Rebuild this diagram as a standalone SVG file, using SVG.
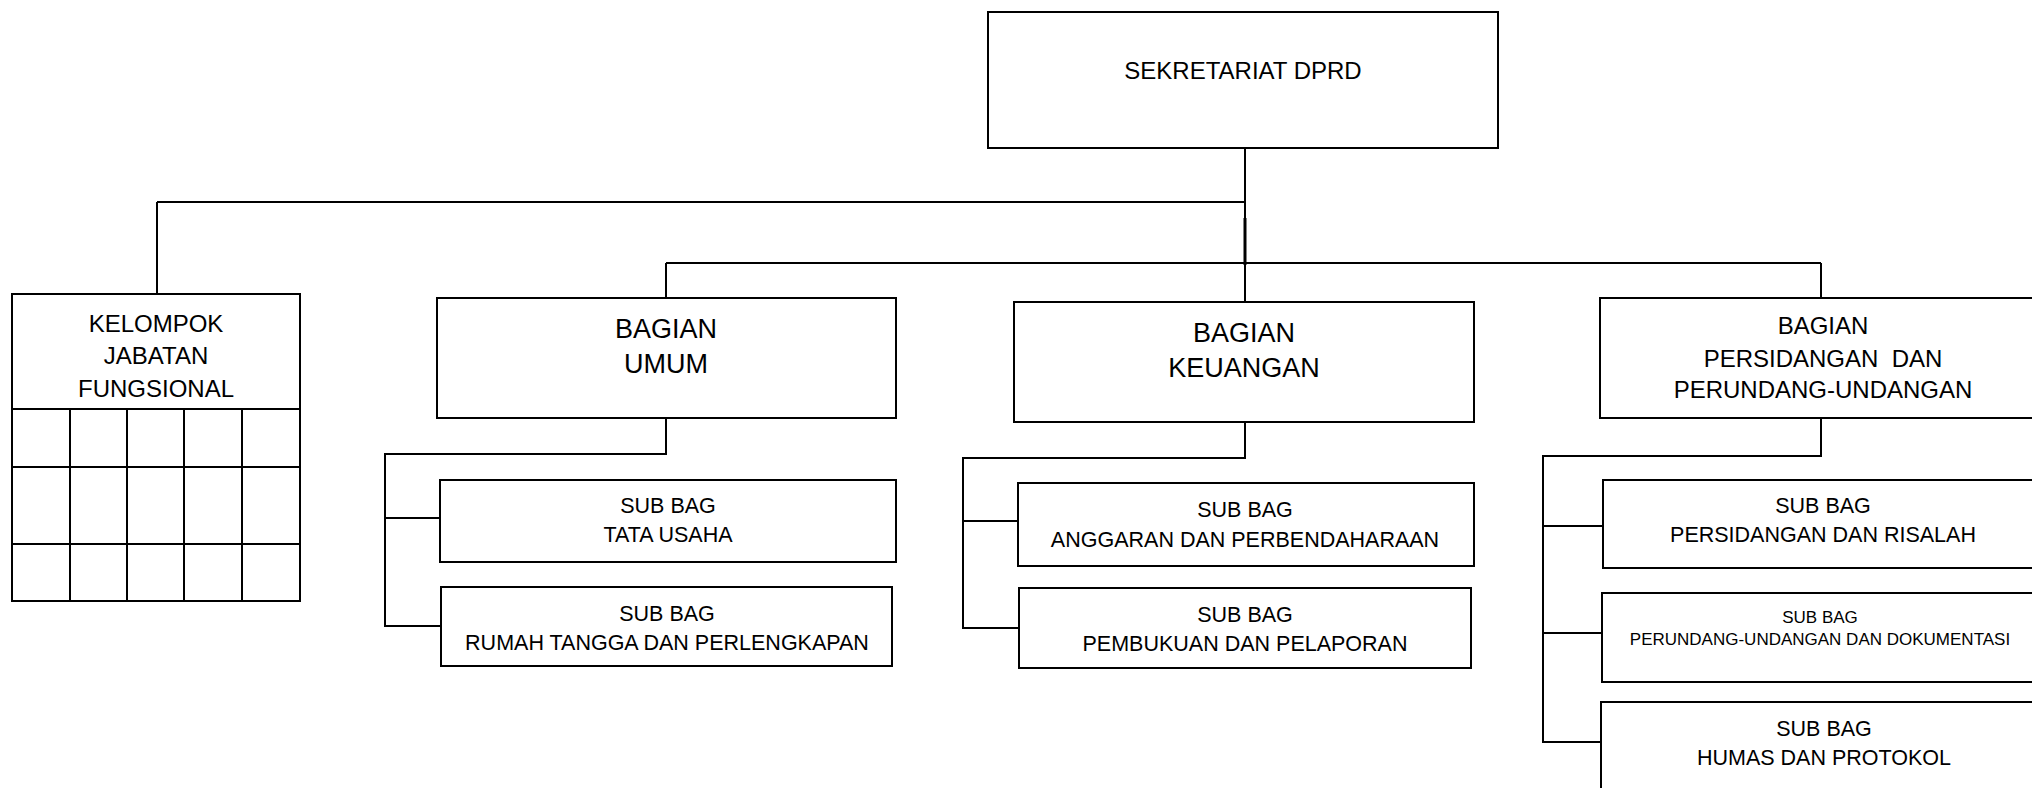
<svg xmlns="http://www.w3.org/2000/svg" width="2032" height="788" viewBox="0 0 2032 788">
<style>
rect { fill: #fff; stroke: #000; stroke-width: 2; }
.ln { stroke: #000; stroke-width: 2; fill: none; }
text { font-family: "Liberation Sans", Arial, sans-serif; fill: #000; text-anchor: middle; white-space: pre; }
.t24 { font-size: 24px; }
.t27 { font-size: 27px; }
.t21 { font-size: 21.5px; }
.t17 { font-size: 17px; }
</style>
<rect x="0" y="0" width="2032" height="788" style="stroke:none;fill:#fff"/>
<g id="connectors">
  <path class="ln" d="M1245,148 V265"/>
  <path d="M1245,218 V265" stroke="#000" stroke-width="3"/>
  <path class="ln" d="M157,202 H1245"/>
  <path class="ln" d="M157,202 V294"/>
  <path class="ln" d="M666,263 H1821"/>
  <path class="ln" d="M666,263 V298"/>
  <path class="ln" d="M1245,263 V302"/>
  <path class="ln" d="M1821,263 V298"/>
  <path class="ln" d="M666,418 V454 H385 V626 H441"/>
  <path class="ln" d="M385,518 H440"/>
  <path class="ln" d="M1245,422 V458 H963 V628 H1019"/>
  <path class="ln" d="M963,521 H1018"/>
  <path class="ln" d="M1821,418 V456 H1543 V742 H1601"/>
  <path class="ln" d="M1543,526 H1603"/>
  <path class="ln" d="M1543,633 H1602"/>
</g>
<g id="sekretariat">
  <rect x="988" y="12" width="510" height="136"/>
  <text class="t24" x="1243" y="79">SEKRETARIAT DPRD</text>
</g>
<g id="kelompok">
  <rect x="12" y="294" width="288" height="307"/>
  <path class="ln" d="M12,409 H300 M12,467 H300 M12,544 H300 M70,409 V601 M127,409 V601 M184,409 V601 M242,409 V601"/>
  <text class="t24" x="156" y="332">KELOMPOK</text>
  <text class="t24" x="156" y="364">JABATAN</text>
  <text class="t24" x="156" y="397">FUNGSIONAL</text>
</g>
<g id="bagian-umum">
  <rect x="437" y="298" width="459" height="120"/>
  <text class="t27" x="666" y="338">BAGIAN</text>
  <text class="t27" x="666" y="373">UMUM</text>
</g>
<g id="subbag-tata-usaha">
  <rect x="440" y="480" width="456" height="82"/>
  <text class="t21" x="668" y="513">SUB BAG</text>
  <text class="t21" x="668" y="542">TATA USAHA</text>
</g>
<g id="subbag-rumah-tangga">
  <rect x="441" y="587" width="451" height="79"/>
  <text class="t21" x="667" y="621">SUB BAG</text>
  <text class="t21" x="667" y="650">RUMAH TANGGA DAN PERLENGKAPAN</text>
</g>
<g id="bagian-keuangan">
  <rect x="1014" y="302" width="460" height="120"/>
  <text class="t27" x="1244" y="342">BAGIAN</text>
  <text class="t27" x="1244" y="377">KEUANGAN</text>
</g>
<g id="subbag-anggaran">
  <rect x="1018" y="483" width="456" height="83"/>
  <text class="t21" x="1245" y="517">SUB BAG</text>
  <text class="t21" x="1245" y="547">ANGGARAN DAN PERBENDAHARAAN</text>
</g>
<g id="subbag-pembukuan">
  <rect x="1019" y="588" width="452" height="80"/>
  <text class="t21" x="1245" y="622">SUB BAG</text>
  <text class="t21" x="1245" y="651">PEMBUKUAN DAN PELAPORAN</text>
</g>
<g id="bagian-persidangan">
  <rect x="1600" y="298" width="440" height="120"/>
  <text class="t24" x="1823" y="334">BAGIAN</text>
  <text class="t24" x="1823" y="367">PERSIDANGAN  DAN</text>
  <text class="t24" x="1823" y="398">PERUNDANG-UNDANGAN</text>
</g>
<g id="subbag-risalah">
  <rect x="1603" y="480" width="440" height="88"/>
  <text class="t21" x="1823" y="513">SUB BAG</text>
  <text class="t21" x="1823" y="542">PERSIDANGAN DAN RISALAH</text>
</g>
<g id="subbag-dokumentasi">
  <rect x="1602" y="593" width="440" height="89"/>
  <text class="t17" x="1820" y="623">SUB BAG</text>
  <text class="t17" x="1820" y="645">PERUNDANG-UNDANGAN DAN DOKUMENTASI</text>
</g>
<g id="subbag-humas">
  <rect x="1601" y="702" width="440" height="100"/>
  <text class="t21" x="1824" y="736">SUB BAG</text>
  <text class="t21" x="1824" y="765">HUMAS DAN PROTOKOL</text>
</g>
</svg>
